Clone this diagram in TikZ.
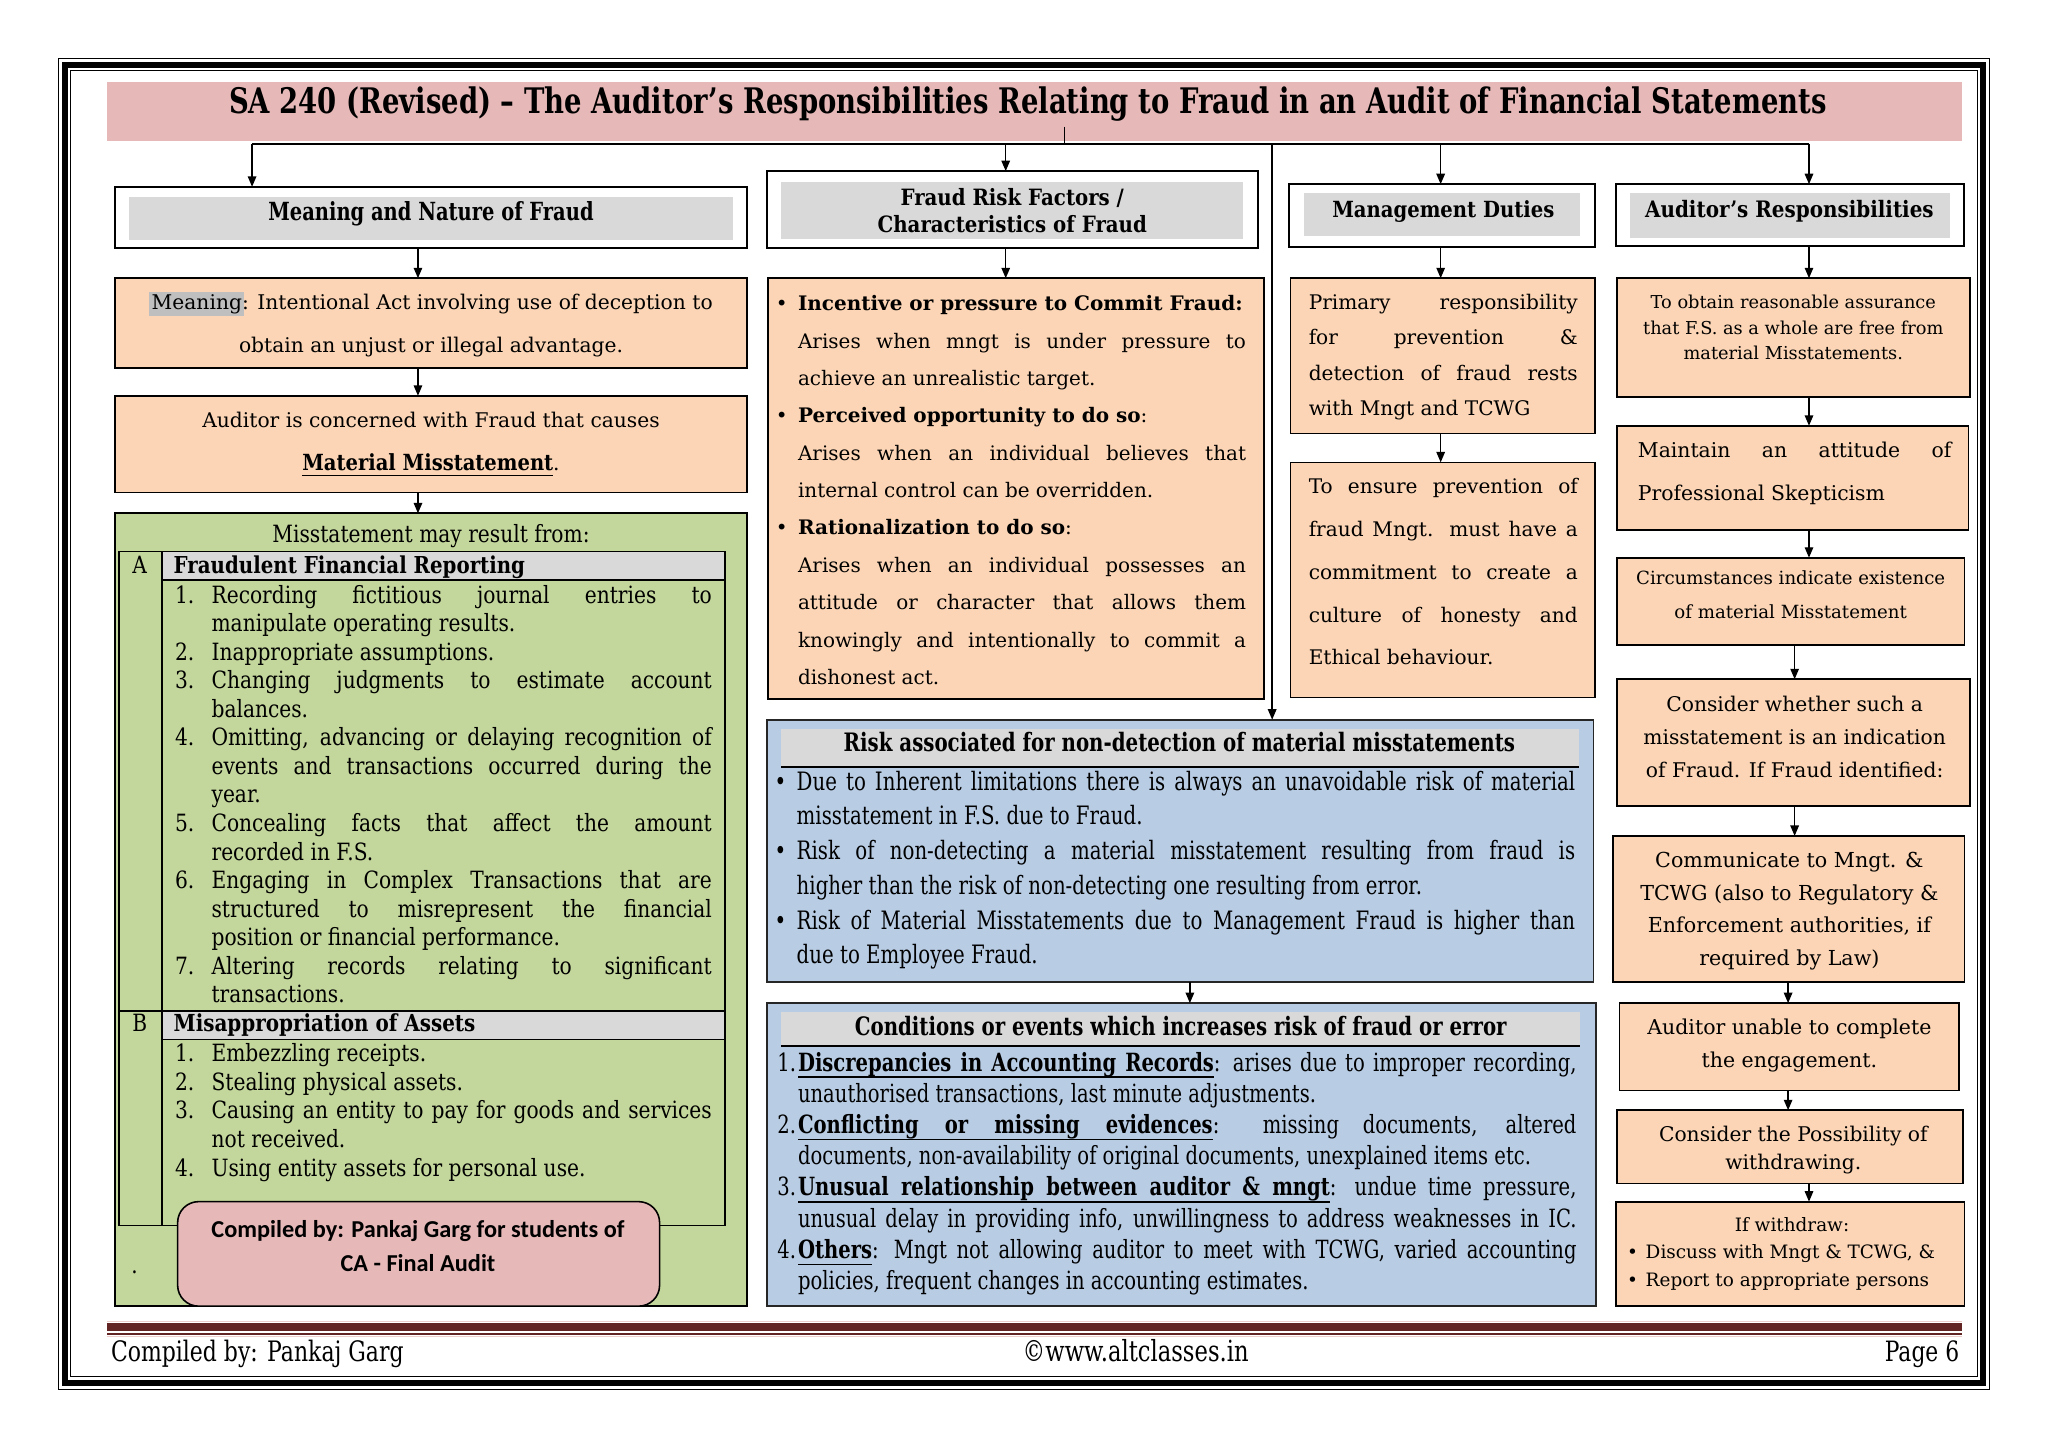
\documentclass[tikz,border=0pt]{standalone}
\usepackage{fontspec}
\usepackage{graphicx}
\setmainfont{DejaVu Serif}
\newfontfamily\condA[FakeStretch=0.85]{DejaVu Serif}
\newfontfamily\condB[FakeStretch=0.78]{DejaVu Serif}
\newfontfamily\condC[FakeStretch=0.88]{DejaVu Serif}
\newfontfamily\calib{Carlito}
\usetikzlibrary{arrows.meta}
\definecolor{titlepink}{HTML}{E6B9B8}
\definecolor{peach}{HTML}{FBD5B5}
\definecolor{hdgray}{HTML}{D9D9D9}
\definecolor{hlgray}{HTML}{BFBFBF}
\definecolor{olivegreen}{HTML}{C3D69B}
\definecolor{paleblue}{HTML}{B8CCE4}
\definecolor{footmaroon}{HTML}{632523}
\newcommand\jl[1]{\makebox[\linewidth][s]{#1}}
\newcommand\js[2]{\makebox[#1pt][s]{#2}}
\newcommand\fitw[2]{\resizebox{#1pt}{!}{#2}}
\newcommand\ulw[1]{\leavevmode\setbox0\hbox{#1}\rlap{\rule[-0.27em]{\wd0}{0.055em}}\box0}
\newcommand\ulsp{\leaders\hrule height -0.215em depth 0.27em\hskip\fontdimen2\font plus\fontdimen3\font minus\fontdimen4\font\relax}
\newcommand\bul[1]{\makebox[0pt][r]{\textbullet\hspace{#1pt}}}
\newcommand\num[1]{\makebox[28pt][l]{#1}}
\newcommand\ind{\hspace*{28pt}}
\newcommand\rnum[1]{\makebox[0pt][r]{#1\hspace{1.5pt}}}
\begin{document}
\begin{tikzpicture}[x=1pt,y=-1pt,
  txt/.style={inner sep=0pt, outer sep=0pt},
  hdbox/.style={draw=black, line width=1.6pt, fill=white, inner sep=0pt, outer sep=0pt},
  hdfill/.style={fill=hdgray, inner sep=0pt, outer sep=0pt},
  pbox/.style={draw=black, line width=1.3pt, fill=peach, inner sep=0pt, outer sep=0pt},
  gbox/.style={draw=black, line width=1.3pt, fill=olivegreen, inner sep=0pt, outer sep=0pt},
  bbox/.style={draw=black!85, line width=1.5pt, fill=paleblue, inner sep=0pt, outer sep=0pt},
  arr/.style={line width=1.1pt, -{Triangle[length=8pt,width=6.5pt]}}]
\useasboundingbox (0,0) rectangle (1568,1109.4);
\fill[white] (0,0) rectangle (1568,1109.4);
% frame
\draw[line width=0.8pt] (45,45) rectangle (1523,1063.5);
\draw[line width=4.5pt] (49.8,49.6) rectangle (1518.5,1058.8);
\draw[line width=0.8pt] (54.3,54.2) rectangle (1513.7,1054.2);
% title
\node[fill=titlepink, minimum width=1420pt, minimum height=45pt, anchor=north west, inner sep=0pt, outer sep=0pt] (title) at (82,63) {};
\node[txt, anchor=base] (titletxt) at (787,87) {\fitw{1223}{\condB\bfseries SA 240 (Revised) – The Auditor’s Responsibilities Relating to Fraud in an Audit of Financial Statements}};
% bus
\coordinate (tick) at (815,97);
\coordinate (busM) at (815,110);
\coordinate (busL) at (193,110);
\coordinate (busR) at (1385,110);
\coordinate (bus2) at (770,110);
\coordinate (bus3) at (1103,110);
\coordinate (busV) at (974,110);
\coordinate (c1) at (320,0);
\coordinate (c2) at (770,0);
\coordinate (c3) at (1103,0);
\coordinate (c4a) at (1385,0);
\coordinate (c4b) at (1374,0);
\coordinate (c4c) at (1369,0);
\coordinate (c5) at (911,0);
\draw[line width=0.6pt] (tick) -- (busM);
\draw[line width=1.3pt] (busL) -- (busR);

% ===== column 1
\node[hdbox, minimum width=484pt, minimum height=47pt, anchor=north west] (h1) at (88,143) {};
\node[hdfill, minimum width=462pt, minimum height=33pt, anchor=north west] (h1g) at (99,151) {};
\node[txt, anchor=base] (h1t) at (330,168.5) {\fitw{249}{\condB\bfseries Meaning and Nature of Fraud}};
\draw[arr] (busL) -- (busL |- h1.north);

\node[pbox, minimum width=484pt, minimum height=69pt, anchor=north west] (m1) at (88,213) {};
\node[txt, anchor=base, font=\fontsize{15.5}{33}\selectfont] (m1t) at (330,237) {\parbox[t]{470pt}{\centering\setlength\fboxsep{1.8pt}\colorbox{hlgray}{\vphantom{Mg}Meaning}\hspace{-1.8pt}: Intentional Act involving use of deception to\\obtain an unjust or illegal advantage.}};
\draw[arr] (h1.south -| c1) -- (m1.north -| c1);

\node[pbox, minimum width=484pt, minimum height=74pt, anchor=north west] (m2) at (88,303) {};
\node[txt, anchor=base, font=\fontsize{15.5}{33}\selectfont] (m2t) at (330,327) {\parbox[t]{470pt}{\centering Auditor is concerned with Fraud that causes\\{\condC\fontsize{17}{33}\selectfont\bfseries\ulw{Material}\ulsp\ulw{Misstatement}}.}};
\draw[arr] (m1.south -| c1) -- (m2.north -| c1);

\node[gbox, minimum width=484pt, minimum height=607pt, anchor=north west] (g) at (88,393) {};
\draw[arr] (m2.south -| c1) -- (g.north -| c1);
\node[txt, anchor=base, font=\condA\fontsize{18.2}{22}\selectfont] (gt) at (330,415.7) {Misstatement may result from:};

\fill[hdgray] (124,422) rectangle (555,444);
\fill[hdgray] (124,774) rectangle (555,796);
\node[draw=black, line width=1pt, minimum width=464pt, minimum height=516pt, anchor=north west, inner sep=0pt, outer sep=0pt] (tbl) at (91,422) {};
\draw[line width=1pt] (124,422) -- (124,938);
\draw[line width=1pt] (124,444) -- (555,444);
\draw[line width=1pt] (91,774) -- (555,774);
\draw[line width=1pt] (124,796) -- (555,796);

\node[txt, anchor=base, font=\condA\fontsize{18.2}{22}\selectfont] (lA) at (107,439) {A};
\node[txt, anchor=base west] (hA) at (133,439) {\fitw{269}{\condA\bfseries Fraudulent Financial Reporting}};
\node[txt, anchor=base west, font=\condA\fontsize{18.2}{21.86}\selectfont] (lstA) at (134,461.7) {\parbox[t]{411pt}{%
\num{1.}\js{383}{Recording fictitious journal entries to}\\
\ind manipulate operating results.\\
\num{2.}Inappropriate assumptions.\\
\num{3.}\js{383}{Changing judgments to estimate account}\\
\ind balances.\\
\num{4.}\js{383}{Omitting, advancing or delaying recognition of}\\
\ind\js{383}{events and transactions occurred during the}\\
\ind year.\\
\num{5.}\js{383}{Concealing facts that affect the amount}\\
\ind recorded in F.S.\\
\num{6.}\js{383}{Engaging in Complex Transactions that are}\\
\ind\js{383}{structured to misrepresent the financial}\\
\ind position or financial performance.\\
\num{7.}\js{383}{Altering records relating to significant}\\
\ind transactions.}};

\node[txt, anchor=base, font=\condA\fontsize{18.2}{22}\selectfont] (lB) at (107,789.7) {B};
\node[txt, anchor=base west] (hB) at (133,789.7) {\fitw{231}{\condA\bfseries Misappropriation of Assets}};
\node[txt, anchor=base west, font=\condA\fontsize{18.2}{22}\selectfont] (lstB) at (134,812.7) {\parbox[t]{411pt}{%
\num{1.}Embezzling receipts.\\
\num{2.}Stealing physical assets.\\
\num{3.}\js{383}{Causing an entity to pay for goods and services}\\
\ind not received.\\
\num{4.}Using entity assets for personal use.}};

\node[draw=black, line width=1.2pt, fill=titlepink, rounded corners=16pt, minimum width=369pt, minimum height=80pt, anchor=north west, inner sep=0pt, outer sep=0pt] (comp) at (136,920) {};
\node[txt, anchor=base, font={\calib\bfseries\fontsize{18.6}{26}\selectfont}] (compt) at (320,947.3) {\parbox[t]{360pt}{\centering Compiled by: Pankaj Garg for students of\\CA - Final Audit}};
\node[txt, anchor=base, font=\condA\fontsize{18}{20}\selectfont] (dot) at (103,975) {.};

% ===== column 2
\node[hdbox, minimum width=376pt, minimum height=59pt, anchor=north west] (h2) at (587,131) {};
\node[hdfill, minimum width=354pt, minimum height=44pt, anchor=north west] (h2g) at (598,139) {};
\node[txt, anchor=base, font={\condC\bfseries\fontsize{17.2}{21}\selectfont}] (h2t) at (775,157) {\parbox[t]{340pt}{\centering Fraud Risk Factors /\\Characteristics of Fraud}};
\draw[arr] (bus2) -- (bus2 |- h2.north);
\node[pbox, minimum width=380pt, minimum height=322pt, anchor=north west] (f1) at (588,213) {};
\draw[arr] (h2.south -| c2) -- (f1.north -| c2);
\node[txt, anchor=base west, font=\fontsize{15.3}{28.6}\selectfont] (f1t) at (611,238) {\parbox[t]{343pt}{%
\bul{8}\mbox{\textbf{Incentive or pressure to Commit Fraud:}}\\
\jl{Arises when mngt is under pressure to}\\
achieve an unrealistic target.\\
\bul{8}\textbf{Perceived opportunity to do so}:\\
\jl{Arises when an individual believes that}\\
internal control can be overridden.\\
\bul{8}\textbf{Rationalization to do so}:\\
\jl{Arises when an individual possesses an}\\
\jl{attitude or character that allows them}\\
\jl{knowingly and intentionally to commit a}\\
dishonest act.}};

% ===== column 3
\node[hdbox, minimum width=234pt, minimum height=48pt, anchor=north west] (h3) at (987,141) {};
\node[hdfill, minimum width=212pt, minimum height=33pt, anchor=north west] (h3g) at (998,148) {};
\node[txt, anchor=base] (h3t) at (1105,166.5) {\fitw{170}{\condC\bfseries Management Duties}};
\draw[arr] (bus3) -- (bus3 |- h3.north);
\node[pbox, minimum width=233pt, minimum height=119pt, anchor=north west] (d1) at (988,213) {};
\node[txt, anchor=base west, font=\fontsize{15.4}{27}\selectfont] (d1t) at (1002,237) {\parbox[t]{206pt}{%
\jl{Primary responsibility}\\
\jl{for prevention \&}\\
\jl{detection of fraud rests}\\
with Mngt and TCWG}};
\draw[arr] (h3.south -| c3) -- (d1.north -| c3);
\node[pbox, minimum width=233pt, minimum height=180pt, anchor=north west] (d2) at (988,354) {};
\node[txt, anchor=base west, font=\fontsize{15.4}{32.75}\selectfont] (d2t) at (1002,378) {\parbox[t]{206pt}{%
\jl{To ensure prevention of}\\
\jl{fraud Mngt. must have a}\\
\jl{commitment to create a}\\
\jl{culture of honesty and}\\
Ethical behaviour.}};
\draw[arr] (d1.south -| c3) -- (d2.north -| c3);

% ===== column 4
\node[hdbox, minimum width=267pt, minimum height=47pt, anchor=north west] (h4) at (1237,141) {};
\node[hdfill, minimum width=245pt, minimum height=34pt, anchor=north west] (h4g) at (1248,148) {};
\node[txt, anchor=base] (h4t) at (1370,166.5) {\fitw{221}{\condC\bfseries Auditor’s Responsibilities}};
\draw[arr] (busR) -- (busR |- h4.north);

\node[pbox, minimum width=270pt, minimum height=91pt, anchor=north west] (a1) at (1238,213) {};
\node[txt, anchor=base, font=\fontsize{13.6}{19.5}\selectfont] (a1t) at (1373,236.5) {\parbox[t]{262pt}{\centering To obtain reasonable assurance\\that F.S. as a whole are free from\\material Misstatements.}};
\draw[arr] (h4.south -| c4a) -- (a1.north -| c4a);

\node[pbox, minimum width=269pt, minimum height=80pt, anchor=north west] (a2) at (1238,326) {};
\node[txt, anchor=base west, font=\fontsize{15.6}{33}\selectfont] (a2t) at (1254,350) {\parbox[t]{240pt}{\jl{Maintain an attitude of}\\Professional Skepticism}};
\draw[arr] (a1.south -| c4a) -- (a2.north -| c4a);

\node[pbox, minimum width=266pt, minimum height=67pt, anchor=north west] (a3) at (1238,427) {};
\node[txt, anchor=base, font=\fontsize{13.9}{26}\selectfont] (a3t) at (1371,447.6) {\parbox[t]{260pt}{\centering Circumstances indicate existence\\of material Misstatement}};
\draw[arr] (a2.south -| c4a) -- (a3.north -| c4a);

\node[pbox, minimum width=270pt, minimum height=97pt, anchor=north west] (a4) at (1238,520) {};
\node[txt, anchor=base, font=\fontsize{15.5}{25}\selectfont] (a4t) at (1374,545) {\parbox[t]{262pt}{\centering Consider whether such a\\misstatement is an indication\\of Fraud. If Fraud identified:}};
\draw[arr] (a3.south -| c4b) -- (a4.north -| c4b);

\node[pbox, minimum width=269pt, minimum height=112pt, anchor=north west] (a5) at (1235,640) {};
\node[txt, anchor=base, font=\fontsize{15.8}{25}\selectfont] (a5t) at (1370,664.1) {\parbox[t]{262pt}{\centering Communicate to Mngt. \&\\TCWG (also to Regulatory \&\\Enforcement authorities, if\\required by Law)}};
\draw[arr] (a4.south -| c4b) -- (a5.north -| c4b);

\node[pbox, minimum width=260pt, minimum height=67pt, anchor=north west] (a6) at (1240,768) {};
\node[txt, anchor=base, font=\fontsize{15.7}{25}\selectfont] (a6t) at (1370,792) {\parbox[t]{255pt}{\centering Auditor unable to complete\\the engagement.}};
\draw[arr] (a5.south -| c4c) -- (a6.north -| c4c);

\node[pbox, minimum width=265pt, minimum height=56pt, anchor=north west] (a7) at (1238,850) {};
\node[txt, anchor=base, font=\fontsize{15.5}{21}\selectfont] (a7t) at (1373,874) {\parbox[t]{260pt}{\centering Consider the Possibility of\\withdrawing.}};
\draw[arr] (a6.south -| c4c) -- (a7.north -| c4c);

\node[pbox, minimum width=267pt, minimum height=80pt, anchor=north west] (a8) at (1237,920) {};
\node[txt, anchor=base west, font=\fontsize{14.1}{21}\selectfont] (a8t) at (1260,942.7) {\parbox[t]{224pt}{\makebox[\linewidth][c]{If withdraw:}\\\bul{6}Discuss with Mngt \& TCWG, \&\\\bul{6}Report to appropriate persons}};
\draw[arr] (a7.south -| c4a) -- (a8.north -| c4a);

% ===== middle risk box
\node[bbox, minimum width=633pt, minimum height=201pt, anchor=north west] (risk) at (587,551) {};
\node[hdfill, minimum width=611pt, minimum height=29pt, anchor=north west] (riskg) at (598,558) {};
\draw[line width=1.3pt] (riskg.south west) -- (riskg.south east);
\node[txt, anchor=base] (riskh) at (903,575) {\fitw{514}{\condB\bfseries Risk associated for non-detection of material misstatements}};
\node[txt, anchor=base west, font=\condB\fontsize{19.4}{26.6}\selectfont] (riskt) at (610,605) {\parbox[t]{596pt}{%
\bul{8}\jl{Due to Inherent limitations there is always an unavoidable risk of material}\\
misstatement in F.S. due to Fraud.\\
\bul{8}\jl{Risk of non-detecting a material misstatement resulting from fraud is}\\
higher than the risk of non-detecting one resulting from error.\\
\bul{8}\jl{Risk of Material Misstatements due to Management Fraud is higher than}\\
due to Employee Fraud.}};
\draw[arr] (busV) -- (busV |- risk.north);

% ===== conditions box
\node[bbox, minimum width=635pt, minimum height=232pt, anchor=north west] (cond) at (587,768) {};
\node[hdfill, minimum width=612pt, minimum height=26pt, anchor=north west] (condg) at (598,775) {};
\draw[line width=1.3pt] (condg.south west) -- (condg.south east);
\node[txt, anchor=base] (condh) at (904,793) {\fitw{499}{\condB\bfseries Conditions or events which increases risk of fraud or error}};
\node[txt, anchor=base west, font=\condB\fontsize{19.2}{23.9}\selectfont] (condt) at (611,820) {\parbox[t]{596pt}{%
\rnum{1.}\jl{\textbf{\ulw{Discrepancies}\ulsp\ulw{in}\ulsp\ulw{Accounting}\ulsp\ulw{Records}}: arises due to improper recording,}\\
unauthorised transactions, last minute adjustments.\\
\rnum{2.}\jl{\textbf{\ulw{Conflicting}\ulsp\ulw{or}\ulsp\ulw{missing}\ulsp\ulw{evidences}}: missing documents, altered}\\
documents, non-availability of original documents, unexplained items etc.\\
\rnum{3.}\jl{\textbf{\ulw{Unusual}\ulsp\ulw{relationship}\ulsp\ulw{between}\ulsp\ulw{auditor}\ulsp\ulw{\&}\ulsp\ulw{mngt}}: undue time pressure,}\\
\jl{unusual delay in providing info, unwillingness to address weaknesses in IC.}\\
\rnum{4.}\jl{\textbf{\ulw{Others}}: Mngt not allowing auditor to meet with TCWG, varied accounting}\\
policies, frequent changes in accounting estimates.}};
\draw[arr] (risk.south -| c5) -- (cond.north -| c5);

% ===== footer
\draw[titlepink!70, line width=1pt] (82,1011.5) -- (1502,1011.5);
\fill[footmaroon] (82,1013) rectangle (1502,1019);
\draw[footmaroon, line width=1.2pt] (82,1021.3) -- (1502,1021.3);
\draw[titlepink!70, line width=1pt] (82,1023.3) -- (1502,1023.3);
\node[txt, anchor=base west] (ft1) at (85,1042) {\fitw{224}{\condB Compiled by: Pankaj Garg}};
\node[txt, anchor=base] (ft2) at (869.5,1042) {\fitw{173}{\condB ©www.altclasses.in}};
\node[txt, anchor=base east] (ft3) at (1500,1042) {\fitw{57}{\condB Page 6}};
\end{tikzpicture}
\end{document}
